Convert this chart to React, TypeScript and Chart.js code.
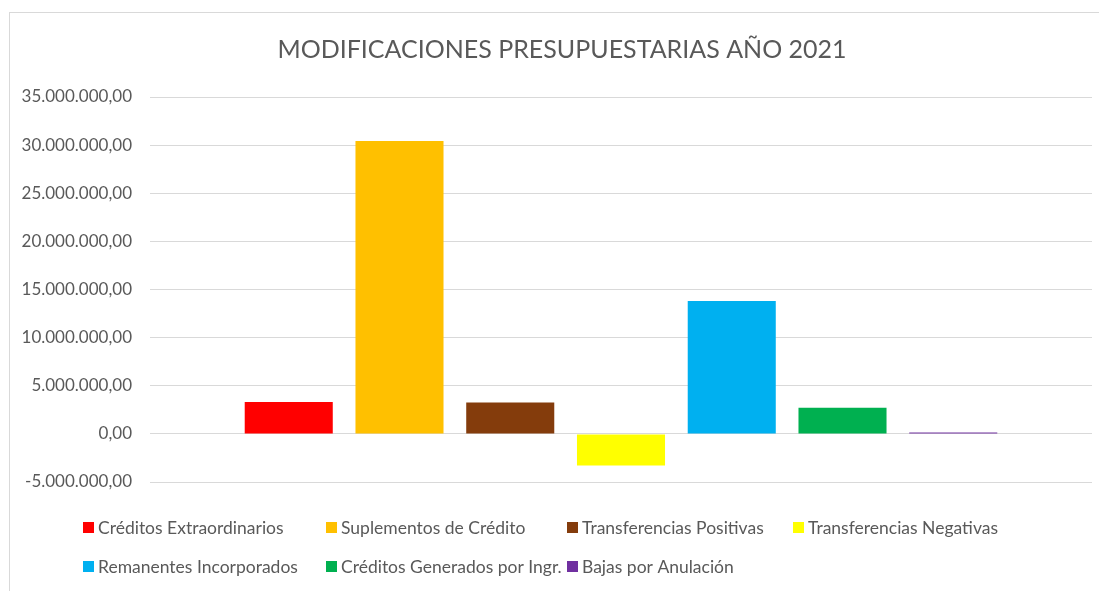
import React, { useEffect, useRef } from "react";
import { Chart, registerables } from "chart.js";

Chart.register(...registerables);

const title = "MODIFICACIONES PRESUPUESTARIAS AÑO 2021";
const categories = [""];
const seriesNames = [
  "Créditos Extraordinarios",
  "Suplementos de Crédito",
  "Transferencias Positivas",
  "Transferencias Negativas",
  "Remanentes Incorporados",
  "Créditos Generados por Ingr.",
  "Bajas por Anulación",
];
const seriesValues = [3320000, 30420000, 3250000, -3290000, 13800000, 2720000, 150000];
const seriesColors = ["#FF0000", "#FFC000", "#843C0C", "#FFFF00", "#00B0F0", "#00B050", "#7030A0"];
const yMin = -5000000;
const yMax = 35000000;
const yStep = 5000000;

const FONT = "Lato, 'Noto Sans', sans-serif";
const TEXT = "#595959";

function formatEs(v: number): string {
  const neg = v < 0;
  const abs = Math.abs(Math.round(v * 100) / 100);
  const intPart = Math.floor(abs).toString().replace(/\B(?=(\d{3})+(?!\d))/g, ".");
  const dec = Math.round((abs - Math.floor(abs)) * 100).toString().padStart(2, "0");
  return (neg ? "-" : "") + intPart + "," + dec;
}

const legendColumns = [83, 326, 567, 793];
const legendRows = [527, 566];
const legendPerRow = 4;

const titlePlugin = {
  id: "excelTitle",
  afterDraw(chart: any) {
    const ctx = chart.ctx;
    ctx.save();
    ctx.font = `25px ${FONT}`;
    ctx.fillStyle = TEXT;
    ctx.textAlign = "center";
    ctx.textBaseline = "middle";
    ctx.fillText(title, 562, 50);
    ctx.restore();
  },
};

const legendPlugin = {
  id: "excelLegend",
  afterDraw(chart: any) {
    const ctx = chart.ctx;
    ctx.save();
    ctx.font = `17.5px ${FONT}`;
    ctx.textBaseline = "middle";
    ctx.textAlign = "left";
    chart.data.datasets.forEach((ds: any, i: number) => {
      const row = Math.floor(i / legendPerRow);
      const col = i % legendPerRow;
      const x = legendColumns[col];
      const y = legendRows[row];
      ctx.fillStyle = ds.backgroundColor;
      ctx.fillRect(x, y - 5, 11, 11);
      ctx.fillStyle = TEXT;
      ctx.fillText(ds.label, x + 15, y + 1);
    });
    ctx.restore();
  },
};

export default function App() {
  const ref = useRef<HTMLCanvasElement | null>(null);
  useEffect(() => {
    if (!ref.current) return;
    const chart = new Chart(ref.current, {
      type: "bar",
      data: {
        labels: categories,
        datasets: seriesNames.map((name, i) => ({
          label: name,
          data: [seriesValues[i]],
          backgroundColor: seriesColors[i],
          borderWidth: 0,
          categoryPercentage: 0.823,
          barPercentage: 0.795,
        })),
      },
      options: {
        animation: false,
        responsive: false,
        maintainAspectRatio: false,
        layout: { padding: { left: 0, right: 7, top: 97, bottom: 109 } },
        plugins: {
          legend: { display: false },
          tooltip: { enabled: false },
          title: { display: false },
        },
        scales: {
          x: { display: false },
          y: {
            min: yMin,
            max: yMax,
            afterFit: (scale: any) => {
              scale.width = 150;
            },
            ticks: {
              stepSize: yStep,
              color: TEXT,
              padding: 18,
              font: { family: FONT, size: 17 },
              callback: (v: any) => formatEs(Number(v)),
            },
            grid: { color: "#D9D9D9", lineWidth: 1, drawTicks: false },
            border: { display: false },
          },
        },
      },
      plugins: [titlePlugin, legendPlugin],
    });
    return () => chart.destroy();
  }, []);
  return (
    <div style={{ position: "fixed", left: 0, top: 0, width: 1099, height: 591, background: "#fff" }}>
      <div
        style={{
          position: "absolute",
          left: 9,
          top: 12,
          width: 1100,
          height: 600,
          border: "1px solid #D9D9D9",
          boxSizing: "border-box",
        }}
      />
      <canvas ref={ref} width={1099} height={591} style={{ position: "absolute", left: 0, top: 0, width: 1099, height: 591 }} />
    </div>
  );
}
